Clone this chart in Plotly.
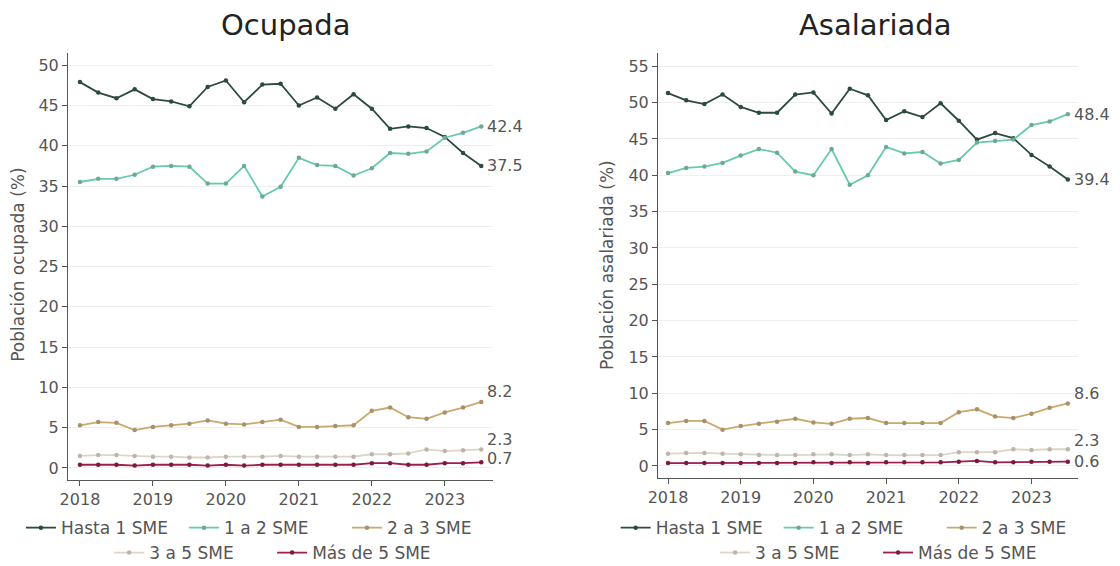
import plotly.graph_objects as go
import pandas as pd

# ---- data ----
periods = ["2018Q1", "2018Q2", "2018Q3", "2018Q4", "2019Q1", "2019Q2", "2019Q3", "2019Q4",
           "2020Q1", "2020Q2", "2020Q3", "2020Q4", "2021Q1", "2021Q2", "2021Q3", "2021Q4",
           "2022Q1", "2022Q2", "2022Q3", "2022Q4", "2023Q1", "2023Q2", "2023Q3"]
series_names = ["Hasta 1 SME", "1 a 2 SME", "2 a 3 SME", "3 a 5 SME", "Más de 5 SME"]
year_ticks = [2018, 2019, 2020, 2021, 2022, 2023]

hasta_ocu = [47.9, 46.6, 45.9, 47.0, 45.8, 45.5, 44.9, 47.3, 48.1, 45.4, 47.6, 47.7,
             45.0, 46.0, 44.6, 46.4, 44.6, 42.1, 42.4, 42.2, 41.1, 39.1, 37.5]
uno2_ocu = [35.5, 35.9, 35.9, 36.4, 37.4, 37.5, 37.4, 35.3, 35.3, 37.5, 33.7, 34.9,
            38.5, 37.6, 37.5, 36.3, 37.2, 39.1, 39.0, 39.3, 41.0, 41.6, 42.4]
dos3_ocu = [5.3, 5.7, 5.6, 4.7, 5.1, 5.3, 5.5, 5.9, 5.5, 5.4, 5.7, 6.0,
            5.1, 5.1, 5.2, 5.3, 7.1, 7.5, 6.3, 6.1, 6.9, 7.5, 8.2]
tres5_ocu = [1.5, 1.6, 1.6, 1.5, 1.4, 1.4, 1.3, 1.3, 1.4, 1.4, 1.4, 1.5,
             1.4, 1.4, 1.4, 1.4, 1.7, 1.7, 1.8, 2.3, 2.1, 2.2, 2.3]
mas5_ocu = [0.4, 0.4, 0.4, 0.3, 0.4, 0.4, 0.4, 0.3, 0.4, 0.3, 0.4, 0.4,
            0.4, 0.4, 0.4, 0.4, 0.6, 0.6, 0.4, 0.4, 0.6, 0.6, 0.7]

hasta_asa = [51.3, 50.3, 49.8, 51.1, 49.4, 48.6, 48.6, 51.1, 51.4, 48.5, 51.9, 51.0,
             47.6, 48.8, 48.0, 49.9, 47.5, 44.9, 45.8, 45.1, 42.8, 41.2, 39.4]
uno2_asa = [40.3, 41.0, 41.2, 41.7, 42.7, 43.6, 43.1, 40.5, 40.0, 43.6, 38.7, 40.0,
            43.9, 43.0, 43.2, 41.6, 42.1, 44.5, 44.7, 44.9, 46.9, 47.4, 48.4]
dos3_asa = [5.9, 6.2, 6.2, 5.0, 5.5, 5.8, 6.1, 6.5, 6.0, 5.8, 6.5, 6.6,
            5.9, 5.9, 5.9, 5.9, 7.4, 7.8, 6.8, 6.6, 7.2, 8.0, 8.6]
tres5_asa = [1.7, 1.8, 1.8, 1.7, 1.6, 1.5, 1.5, 1.5, 1.6, 1.6, 1.5, 1.6,
             1.5, 1.5, 1.5, 1.5, 1.9, 1.9, 1.9, 2.3, 2.2, 2.3, 2.3]
mas5_asa = [0.4, 0.4, 0.4, 0.4, 0.4, 0.4, 0.4, 0.4, 0.5, 0.4, 0.5, 0.4,
            0.5, 0.5, 0.5, 0.5, 0.6, 0.7, 0.5, 0.5, 0.6, 0.6, 0.6]

# ---- styles ----
FONT = "DejaVu Sans"
colors = ["#2b4a40", "#66cba9", "#c9a96e", "#ddd6c5", "#a01d4c"]
marker_colors = ["#2b4a40", "#6fa895", "#a8916a", "#bdb6a8", "#7a1a3c"]
label_yshift_ocu = [0, 0, 10, 10, 4]
label_yshift_asa = [0, 0, 10, 9, 0]

pidx = pd.PeriodIndex(periods, freq="Q")
x = [p.year + (p.quarter - 1) / 4 for p in pidx]

left = [hasta_ocu, uno2_ocu, dos3_ocu, tres5_ocu, mas5_ocu]
right = [hasta_asa, uno2_asa, dos3_asa, tres5_asa, mas5_asa]

fig = go.Figure()
annotations = []
for panel, (data, xa, ya, shifts) in enumerate([(left, "x", "y", label_yshift_ocu),
                                                (right, "x2", "y2", label_yshift_asa)]):
    for i, (name, vals) in enumerate(zip(series_names, data)):
        if panel == 0:
            leg = "legend" if i < 3 else "legend2"
        else:
            leg = "legend3" if i < 3 else "legend4"
        fig.add_trace(go.Scatter(
            x=x, y=vals, name=name, mode="lines+markers",
            line=dict(color=colors[i], width=1.8),
            marker=dict(color=marker_colors[i], size=4.5),
            xaxis=xa, yaxis=ya, legend=leg, showlegend=True,
            hoverinfo="skip",
        ))
    for i in [0, 1, 2, 3, 4]:
        vals = data[i]
        annotations.append(dict(
            x=x[-1], y=vals[-1], xref=xa, yref=ya, text=f"{vals[-1]:.1f}",
            showarrow=False, xanchor="left", yanchor="middle", xshift=4,
            yshift=shifts[i], font=dict(family=FONT, size=16, color="#555555"),
        ))

# titles
annotations += [
    dict(text="Ocupada", x=0.2554, y=0.956, xref="paper", yref="paper", showarrow=False,
         xanchor="center", yanchor="middle", font=dict(family=FONT, size=29, color="#222222")),
    dict(text="Asalariada", x=0.781, y=0.956, xref="paper", yref="paper", showarrow=False,
         xanchor="center", yanchor="middle", font=dict(family=FONT, size=29, color="#222222")),
    dict(text="Población ocupada (%)", x=0.016, y=0.532, xref="paper", yref="paper",
         showarrow=False, textangle=-90, xanchor="center", yanchor="middle",
         font=dict(family=FONT, size=17, color="#555555")),
    dict(text="Población asalariada (%)", x=0.542, y=0.532, xref="paper", yref="paper",
         showarrow=False, textangle=-90, xanchor="center", yanchor="middle",
         font=dict(family=FONT, size=17, color="#555555")),
]

axis_common = dict(showline=True, linecolor="#555555", linewidth=1, ticks="outside",
                   ticklen=5, tickcolor="#555555", zeroline=False, automargin=False,
                   tickfont=dict(family=FONT, size=16, color="#555555"))

legend_common = dict(orientation="h", xanchor="center", yanchor="middle",
                     font=dict(family=FONT, size=17, color="#555555"),
                     bgcolor="rgba(0,0,0,0)", itemwidth=30, tracegroupgap=0,
                     entrywidth=118)

fig.update_layout(
    width=1120, height=566,
    margin=dict(l=0, r=0, t=0, b=0, autoexpand=False),
    plot_bgcolor="white", paper_bgcolor="white",
    xaxis=dict(domain=[0.0607, 0.440], range=[2017.836, 2023.658], tickvals=year_ticks,
               ticktext=[str(v) for v in year_ticks], showgrid=False, anchor="y", **axis_common),
    yaxis=dict(domain=[0.152, 0.906], range=[-1.49, 51.49], tickvals=list(range(0, 51, 5)),
               showgrid=True, gridcolor="#efefef", anchor="x", **axis_common),
    xaxis2=dict(domain=[0.5875, 0.9625], range=[2017.862, 2023.64], tickvals=year_ticks,
                ticktext=[str(v) for v in year_ticks], showgrid=False, anchor="y2", **axis_common),
    yaxis2=dict(domain=[0.1555, 0.906], range=[-1.65, 56.79], tickvals=list(range(0, 56, 5)),
                showgrid=True, gridcolor="#efefef", anchor="x2", **axis_common),
    legend=dict(x=0.237, y=0.067, **legend_common),
    legend2=dict(x=0.243, y=0.023, **legend_common),
    legend3=dict(x=0.768, y=0.067, **legend_common),
    legend4=dict(x=0.784, y=0.023, **legend_common),
    annotations=annotations,
    showlegend=True,
)

fig.write_html("out.html", config={"displayModeBar": False},
               post_script="document.body.style.margin='0';")
